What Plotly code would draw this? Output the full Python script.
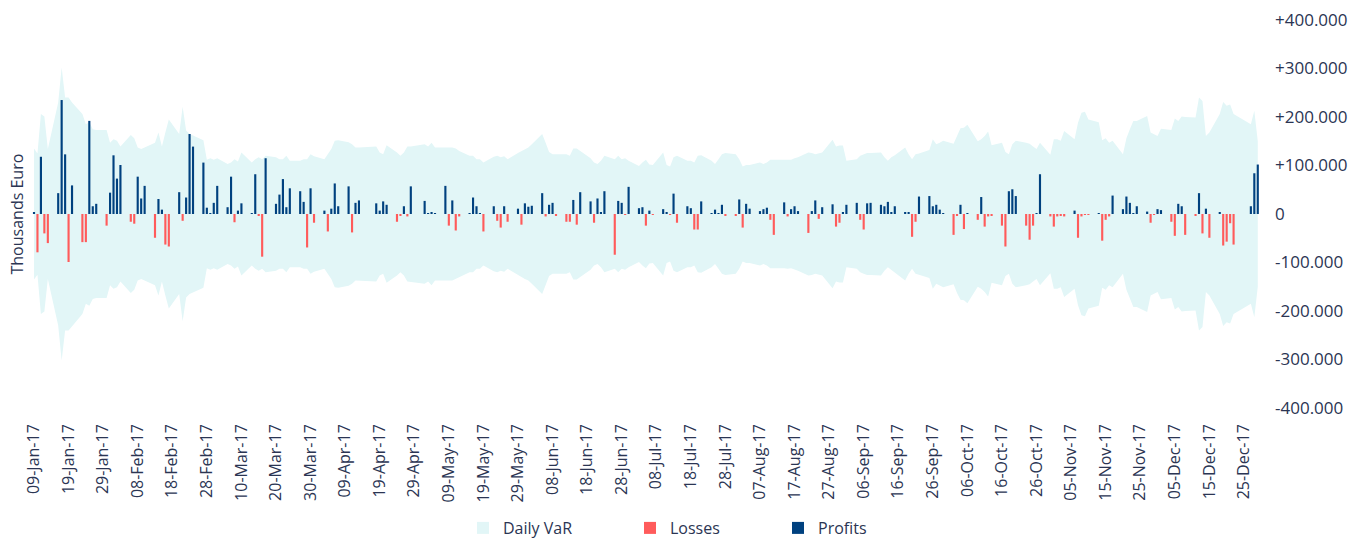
import pandas as pd
import plotly.graph_objects as go

# ---- data (values in the axis unit; 100 = "+100.000") ----
first_day = "2017-01-09"
last_day = "2017-12-29"
holidays = ["2017-04-14", "2017-04-17", "2017-05-01", "2017-12-25", "2017-12-26"]

# daily P&L, one row per week (Mon..Fri), None = holiday
pnl = [
    4, -79, 118, -40, -60,
    43, 235, 123, -99, 59,
    -58, -58, 192, 16, 21,
    -24, 44, 121, 73, 101,
    -16, -20, 77, 32, 58,
    -49, 31, 9, -63, -67,
    45, -14, 34, 165, 139,
    106, 13, 2, 23, 58,
    14, 77, -17, 7, 22,
    1, 82, -3, -88, 115,
    21, 40, 72, 14, 53,
    47, 25, -69, 53, -18,
    7, -36, 11, 63, 16,
    57, -38, 23, 28, None,
    None, 22, 7, 26, 19,
    -16, -3, 16, -5, 57,
    None, 27, 1, 3, 2,
    58, -24, 28, -34, -5,
    2, 34, 16, 1, -36,
    16, -14, -28, 16, -16,
    11, -22, 22, 15, 17,
    43, -5, 19, 23, -3,
    -16, -16, 29, -22, 45,
    26, -18, 32, 4, 47,
    -84, 27, 23, -2, 56,
    12, 14, -24, 7, -1,
    10, 3, -1, 42, -18,
    16, 12, -32, -32, 26,
    1, 9, 1, 19, -3,
    -3, 30, -28, 21, 11,
    6, 10, 13, -12, -43,
    24, -5, 10, 16, 6,
    -39, 6, 28, -10, 14,
    20, -26, -18, 4, 19,
    23, -12, -32, 22, 23,
    19, 16, 25, 3, 16,
    4, 4, -47, -16, 36,
    37, 16, 19, 9, 1,
    -43, -3, 19, -31, 1,
    -12, 35, -26, -5, -3,
    -24, -67, 47, 51, 37,
    -24, -53, -24, 2, 82,
    -5, -26, -5, -3, -5,
    7, -49, -5, -1, -1,
    2, -55, -12, -5, 38,
    10, 36, 23, 2, 16,
    5, -18, -1, 10, 8,
    -16, -45, 21, 16, -43,
    -3, 43, -40, 11, -49,
    4, -65, -57, -19, -63,
    None, None, 16, 84, 102,
]

# daily VaR (band is +/- VaR), same layout
var = [
    135, 125, 206, 201, 134,
    230, 302, 240, 240, 230,
    206, 185, 189, 175, 173,
    173, 147, 154, 151, 139,
    163, 156, 137, 134, 137,
    147, 168, 139, 168, 195,
    165, 221, 172, 165, 162,
    152, 112, 115, 112, 115,
    103, 106, 113, 108, 127,
    106, 113, 117, 113, 120,
    117, 113, 113, 120, 110,
    110, 113, 113, 123, 119,
    113, 123, 134, 151, 152,
    148, 144, 137, 137, None,
    None, 139, 127, 123, 142,
    127, 120, 127, 139, 139,
    None, 144, 139, 147, 137,
    137, 137, 137, 135, 130,
    120, 120, 113, 113, 106,
    118, 120, 117, 119, 113,
    126, 130, 134, 137, 144,
    165, 147, 128, 123, 123,
    123, 120, 135, 135, 130,
    115, 106, 103, 110, 120,
    113, 120, 113, 115, 110,
    99, 106, 112, 102, 101,
    127, 101, 98, 117, 120,
    110, 110, 106, 120, 121,
    110, 103, 113, 123, 126,
    123, 113, 98, 101, 101,
    106, 103, 106, 112, 112,
    112, 113, 112, 115, 117,
    127, 126, 123, 125, 127,
    153, 139, 141, 141, 110,
    113, 120, 123, 126, 126,
    127, 117, 110, 117, 121,
    137, 123, 113, 123, 125,
    132, 154, 144, 147, 151,
    145, 163, 177, 178, 184,
    150, 154, 161, 170, 142,
    147, 128, 123, 144, 151,
    147, 145, 139, 134, 147,
    122, 154, 154, 151, 171,
    154, 188, 209, 211, 195,
    189, 152, 156, 147, 151,
    123, 156, 175, 192, 192,
    202, 168, 165, 161, 176,
    173, 197, 192, 201, 200,
    199, 240, 233, 161, 168,
    206, 231, 223, 226, 206,
    None, None, 185, 213, 150,
]

y_tick_vals = [-400, -300, -200, -100, 0, 100, 200, 300, 400]
y_tick_text = ["-400.000", "-300.000", "-200.000", "-100.000", "0",
               "+100.000", "+200.000", "+300.000", "+400.000"]

# ---- build series ----
weekdays = pd.bdate_range(first_day, last_day)
rows = [(d, p, v) for d, p, v in zip(weekdays, pnl, var) if p is not None]
dates = [r[0] for r in rows]
vals = [r[1] for r in rows]
vars_ = [r[2] for r in rows]

profit_x = [d for d, p in zip(dates, vals) if p > 0]
profit_y = [p for p in vals if p > 0]
loss_x = [d for d, p in zip(dates, vals) if p < 0]
loss_y = [p for p in vals if p < 0]

band_color = "#e2f6f7"
loss_color = "#ff5b5b"
profit_color = "#00417f"
text_color = "#2b3553"
font_family = "Open Sans"

DAY_MS = 86400000
bar_w = 0.62 * DAY_MS

fig = go.Figure()

# band on the base axes (drawn underneath)
fig.add_trace(go.Scatter(
    x=dates + dates[::-1],
    y=vars_ + [-v for v in vars_[::-1]],
    fill="toself", fillcolor=band_color, mode="lines",
    line=dict(width=0, color=band_color),
    name="Daily VaR", legendgroup="var", showlegend=False,
    hoverinfo="skip", xaxis="x", yaxis="y",
))
# bars on overlaying axes so they sit above the band
fig.add_trace(go.Bar(
    x=[None], y=[None], name="Daily VaR", legendgroup="var",
    marker=dict(color=band_color, line=dict(width=0)), legend="legend",
    xaxis="x2", yaxis="y2",
))
fig.add_trace(go.Bar(
    x=loss_x, y=loss_y, width=bar_w, name="Losses",
    marker=dict(color=loss_color, line=dict(width=0)), legend="legend2",
    xaxis="x2", yaxis="y2",
))
fig.add_trace(go.Bar(
    x=profit_x, y=profit_y, width=bar_w, name="Profits",
    marker=dict(color=profit_color, line=dict(width=0)), legend="legend3",
    xaxis="x2", yaxis="y2",
))

W, H = 1363, 541
# plot area in window pixels: x 30..1263, y 20..408
ml, mt = 30, 20
mr = W - 1263
mb = H - 408
px_per_day = 3.457
t0 = pd.Timestamp(first_day) - pd.Timedelta(days=4 / px_per_day)
t1 = t0 + pd.Timedelta(days=(1263 - 30) / px_per_day)
x_range = [t0.isoformat(), t1.isoformat()]

legend_common = dict(
    orientation="h", xref="container", yref="container",
    yanchor="middle", y=(H - 528) / H, xanchor="left",
    font=dict(family=font_family, size=16, color=text_color),
    bgcolor="rgba(0,0,0,0)", borderwidth=0, itemclick=False, itemdoubleclick=False,
)

fig.update_layout(
    template="none",
    width=W, height=H,
    margin=dict(l=ml, r=mr, t=mt, b=mb, autoexpand=False),
    paper_bgcolor="white", plot_bgcolor="white",
    barmode="overlay",
    font=dict(family=font_family, size=16, color=text_color),
    xaxis=dict(
        type="date", range=x_range, automargin=False,
        tick0=first_day, dtick=10 * DAY_MS, tickformat="%d-%b-%y",
        tickangle=-90, showgrid=False, zeroline=False, showline=False,
        ticks="", ticklabelstandoff=12,
        tickfont=dict(family=font_family, size=16, color=text_color),
    ),
    yaxis=dict(
        side="right", range=[-400, 400], tickvals=y_tick_vals, ticktext=y_tick_text,
        showgrid=False, zeroline=False, showline=False, ticks="", automargin=False,
        ticklabelstandoff=11,
        tickfont=dict(family=font_family, size=17, color=text_color),
    ),
    xaxis2=dict(
        type="date", range=x_range, overlaying="x", matches="x", visible=False,
        showgrid=False, zeroline=False,
    ),
    yaxis2=dict(
        range=[-400, 400], overlaying="y", matches="y", visible=False,
        showgrid=False, zeroline=False,
    ),
    legend=dict(legend_common, x=(503 - 40) / W),
    legend2=dict(legend_common, x=(670 - 40) / W),
    legend3=dict(legend_common, x=(818 - 40) / W),
    annotations=[dict(
        text="Thousands Euro", textangle=-90, showarrow=False,
        xref="paper", yref="paper", x=(16.5 - 30) / (1263 - 30), y=0.5,
        xanchor="center", yanchor="middle",
        font=dict(family=font_family, size=16, color=text_color),
    )],
)

fig.write_html(
    "out.html",
    config={"displayModeBar": False},
    post_script="document.body.style.margin='0';",
)
